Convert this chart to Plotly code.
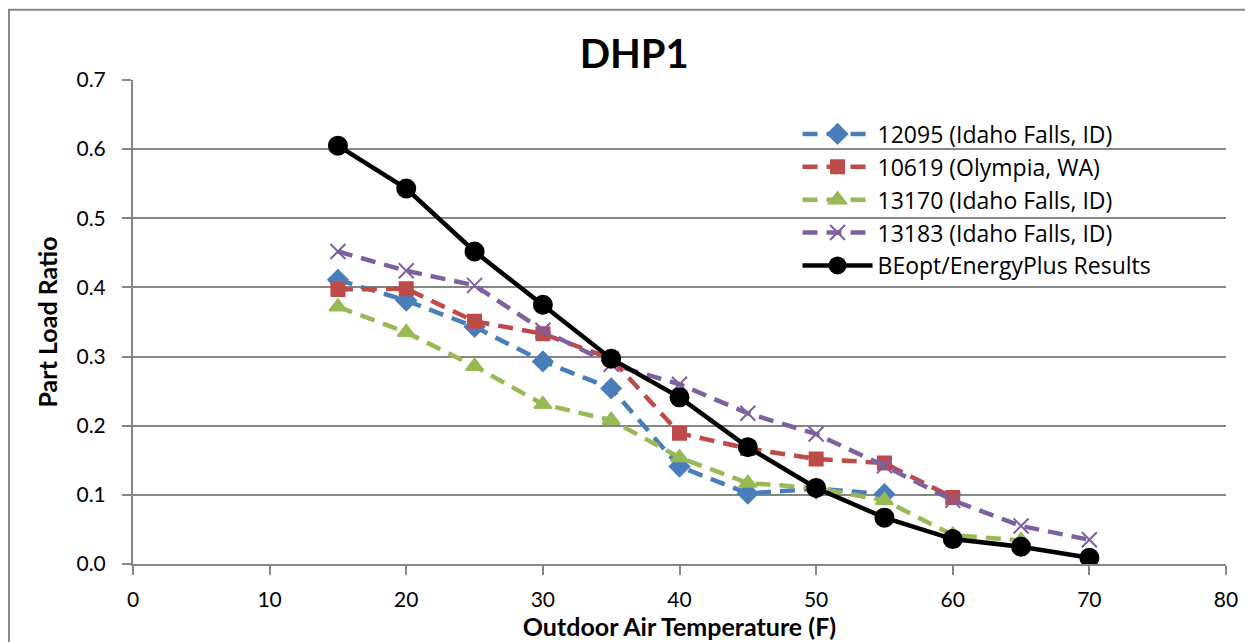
import plotly.graph_objects as go

# outdoor air temperature (F)
temps = [15, 20, 25, 30, 35, 40, 45, 50, 55, 60, 65, 70]

# part load ratio per test site
plr_12095 = [0.411, 0.381, 0.343, 0.293, 0.254, 0.141, 0.102, 0.109, 0.101]
plr_10619 = [0.397, 0.398, 0.351, 0.333, 0.297, 0.189, 0.167, 0.152, 0.146, 0.096]
plr_13170 = [0.372, 0.335, 0.286, 0.231, 0.208, 0.154, 0.117, 0.110, 0.092, 0.042, 0.034]
plr_13183 = [0.452, 0.424, 0.403, 0.338, 0.289, 0.260, 0.218, 0.188, 0.142, 0.092, 0.055, 0.035]
plr_beopt = [0.605, 0.543, 0.452, 0.375, 0.297, 0.241, 0.169, 0.110, 0.067, 0.036, 0.025, 0.009]

FONT = "Lato, 'Open Sans', Arial, sans-serif"
LEG_FONT = "'Open Sans', Lato, Arial, sans-serif"
GRID = "#868686"

series = [
    ("12095 (Idaho Falls, ID)", plr_12095, "#4A7EBB", "diamond", 15, "dash"),
    ("10619 (Olympia, WA)", plr_10619, "#BE4B48", "square", 13, "dash"),
    ("13170 (Idaho Falls, ID)", plr_13170, "#98B954", "triangle-up", 15, "dash"),
    ("13183 (Idaho Falls, ID)", plr_13183, "#7D60A0", "x-thin", 15, "dash"),
    ("BEopt/EnergyPlus Results", plr_beopt, "#000000", "circle", 18, "solid"),
]

fig = go.Figure()
for i, (name, vals, color, sym, size, dash) in enumerate(series):
    fig.add_trace(go.Scatter(
        x=temps[:len(vals)], y=vals, name=name, mode="lines+markers",
        legendgroup=str(i),
        line=dict(color=color, width=4.5, dash="solid" if dash == "solid" else "15px,9px"),
        marker=dict(symbol=sym, size=size, color=color,
                    line=dict(color=color, width=2)),
    ))

# page body adds an 8px margin, so the figure is sized 8px smaller
fig.update_layout(
    width=1245, height=634,
    margin=dict(l=125, r=27, t=72, b=78),
    paper_bgcolor="white", plot_bgcolor="white",
    font=dict(family=FONT, size=21, color="black"),
    title=dict(text="<b>DHP1</b>", x=0.503, xanchor="center", y=0.928, yanchor="middle",
               font=dict(size=40, family=FONT)),
    legend=dict(x=0.608, y=0.933, xanchor="left", yanchor="top",
                bgcolor="rgba(0,0,0,0)", itemwidth=70, tracegroupgap=0,
                font=dict(size=23, family=LEG_FONT)),
    showlegend=True,
)
fig.update_xaxes(
    range=[0, 80], dtick=10, showgrid=False, zeroline=False, automargin=False,
    showline=True, linecolor=GRID, linewidth=2,
    ticks="outside", ticklen=9, tickcolor=GRID, tickwidth=2, ticklabelstandoff=7,
    title=dict(text="<b>Outdoor Air Temperature (F)</b>", font=dict(size=25), standoff=4),
)
fig.update_yaxes(
    range=[0, 0.7], dtick=0.1, tickformat=".1f", showgrid=True, gridcolor=GRID, gridwidth=2,
    zeroline=False, showline=True, linecolor=GRID, linewidth=2, automargin=False,
    ticks="outside", ticklen=9, tickcolor=GRID, tickwidth=2, ticklabelstandoff=12,
    title=dict(text="<b>Part Load Ratio</b>", font=dict(size=25), standoff=12),
)
# outer chart frame
fig.add_shape(type="rect", xref="paper", yref="paper",
              x0=-0.1135, x1=1.05, y0=-0.3, y1=1.145,
              line=dict(color=GRID, width=2), layer="below")

fig.write_html("out.html")
